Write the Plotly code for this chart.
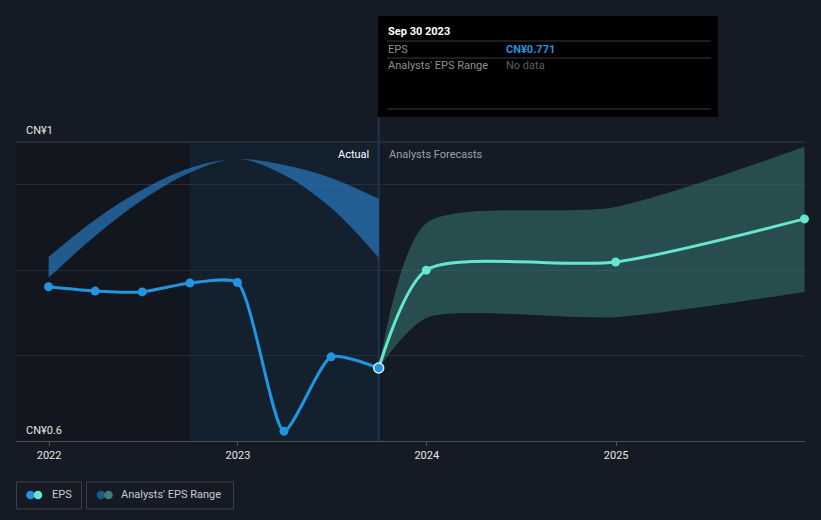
import plotly.graph_objects as go

# ---- data ----
actual_dates = ["2021-12-31", "2022-03-31", "2022-06-30", "2022-09-30",
                "2022-12-31", "2023-03-31", "2023-06-30", "2023-09-30"]
actual_eps = [0.961, 0.951, 0.949, 0.970, 0.971, 0.623, 0.797, 0.771]

range_hist_high = [1.031, 1.118, 1.188, 1.239, 1.260, 1.246, 1.216, 1.167]
range_hist_low = [0.982, 1.080, 1.164, 1.228, 1.260, 1.223, 1.146, 1.029]

forecast_dates = ["2023-09-30", "2023-12-31", "2024-12-31", "2025-12-31"]
forecast_eps = [0.771, 1.000, 1.019, 1.120]
forecast_low = [0.771, 0.888, 0.890, 0.949]
forecast_high = [0.771, 1.110, 1.148, 1.289]

year_ticks = ["2022-01-01", "2023-01-01", "2024-01-01", "2025-01-01"]
year_labels = ["2022", "2023", "2024", "2025"]

# ---- geometry helpers (pixels -> paper) ----
W, H = 821, 520
L, R, T, B = 16, 805, 142, 441


def px(x):
    return (x - L) / (R - L)


def py(y):
    return (B - y) / (B - T)


BG = "#151b24"
BLUE = "#2394df"
TEAL = "#64e6cf"
FONT = "Roboto, 'Open Sans', sans-serif"

fig = go.Figure()

# historical range band
fig.add_trace(go.Scatter(x=actual_dates, y=range_hist_low, mode="lines",
                         line=dict(width=0, shape="spline", smoothing=1.0),
                         hoverinfo="skip", showlegend=False))
fig.add_trace(go.Scatter(x=actual_dates, y=range_hist_high, mode="lines",
                         line=dict(width=0, shape="spline", smoothing=1.0),
                         fill="tonexty", fillcolor="rgba(45,140,220,0.58)",
                         hoverinfo="skip", showlegend=False))

# forecast range band
fig.add_trace(go.Scatter(x=forecast_dates, y=forecast_low, mode="lines",
                         line=dict(width=0, shape="spline", smoothing=0.7),
                         hoverinfo="skip", showlegend=False))
fig.add_trace(go.Scatter(x=forecast_dates, y=forecast_high, mode="lines",
                         line=dict(width=0, shape="spline", smoothing=0.7),
                         fill="tonexty", fillcolor="rgba(64,140,130,0.45)",
                         hoverinfo="skip", showlegend=False))

# actual EPS
fig.add_trace(go.Scatter(x=actual_dates, y=actual_eps, mode="lines+markers",
                         line=dict(color=BLUE, width=3, shape="spline", smoothing=0.6),
                         marker=dict(size=9, color=BLUE),
                         hoverinfo="skip", showlegend=False))

# forecast EPS
fig.add_trace(go.Scatter(x=forecast_dates, y=forecast_eps, mode="lines",
                         line=dict(color=TEAL, width=3, shape="spline", smoothing=0.7),
                         hoverinfo="skip", showlegend=False, cliponaxis=False))
fig.add_trace(go.Scatter(x=forecast_dates[1:], y=forecast_eps[1:], mode="markers",
                         marker=dict(size=9, color=TEAL),
                         hoverinfo="skip", showlegend=False, cliponaxis=False))

# highlighted last point
fig.add_trace(go.Scatter(x=[actual_dates[-1]], y=[actual_eps[-1]], mode="markers",
                         marker=dict(size=10, color=BLUE, line=dict(color="#d6ecff", width=1.5)),
                         hoverinfo="skip", showlegend=False, cliponaxis=False))

shapes = []
# darker left region
shapes.append(dict(type="rect", xref="x", yref="paper", x0="2021-10-01", x1="2022-09-30",
                   y0=0, y1=1, fillcolor="#12161e", line=dict(width=0), layer="below"))
# highlighted past-year region
shapes.append(dict(type="rect", xref="x", yref="paper", x0="2022-09-30", x1="2023-09-30",
                   y0=0, y1=1, fillcolor="#13202e", line=dict(width=0), layer="below"))
# top line
shapes.append(dict(type="line", xref="paper", yref="paper", x0=0, x1=1, y0=1, y1=1,
                   line=dict(color="#363c46", width=1), layer="below"))
# hover vertical line
shapes.append(dict(type="line", xref="x", yref="paper", x0="2023-09-30", x1="2023-09-30",
                   y0=0, y1=py(117), line=dict(color="#1c3550", width=2), layer="below"))
# tooltip box
shapes.append(dict(type="rect", xref="paper", yref="paper", x0=px(378), x1=px(718),
                   y0=py(117), y1=py(16), fillcolor="#000000", line=dict(width=0)))
for yy in (41, 58, 109):
    shapes.append(dict(type="line", xref="paper", yref="paper", x0=px(387), x1=px(711),
                       y0=py(yy), y1=py(yy), line=dict(color="#3a3a3a", width=1)))

# legend boxes
for (x0, x1) in ((16.5, 81.5), (86.5, 233.5)):
    shapes.append(dict(type="rect", xref="paper", yref="paper", x0=px(x0), x1=px(x1),
                       y0=py(509), y1=py(482), fillcolor=BG,
                       line=dict(color="#3a3f48", width=1)))
# legend icons
for cx, col in ((30.5, BLUE), (38, TEAL), (101, "#1d5a8a"), (108.5, "#3d7d76")):
    r = 4.3
    shapes.append(dict(type="circle", xref="paper", yref="paper",
                       x0=px(cx - r), x1=px(cx + r), y0=py(495 + r), y1=py(495 - r),
                       fillcolor=col, line=dict(width=0)))

annotations = []


def text(x, y, s, color, size=11, xanchor="left", bold=False):
    annotations.append(dict(xref="paper", yref="paper", x=px(x), y=py(y), text=f"<b>{s}</b>" if bold else s,
                            showarrow=False, xanchor=xanchor, yanchor="middle",
                            font=dict(family=FONT, size=size, color=color)))


text(24, 130, "CN¥1", "#e6e6e6")
text(24, 430, "CN¥0.6", "#e6e6e6")
text(371, 154, "Actual", "#ffffff", xanchor="right")
text(387, 154, "Analysts Forecasts", "#9aa0a8")
text(386, 31, "Sep 30 2023", "#ffffff", bold=True)
text(386, 49, "EPS", "#8f8f8f")
text(504, 49, "CN¥0.771", BLUE, bold=True)
text(386, 66, "Analysts' EPS Range", "#8f8f8f")
text(504, 66, "No data", "#5f5f5f")
text(50, 495, "EPS", "#c8ccd2")
text(119, 495, "Analysts' EPS Range", "#c8ccd2")

fig.update_layout(
    width=W, height=H,
    margin=dict(l=L, r=W - R, t=T, b=H - B),
    paper_bgcolor=BG, plot_bgcolor=BG,
    shapes=shapes, annotations=annotations,
    showlegend=False,
    font=dict(family=FONT, color="#e6e6e6", size=11),
    xaxis=dict(type="date", range=["2021-10-29", "2026-01-01"],
               tickvals=year_ticks, ticktext=year_labels,
               showgrid=False, zeroline=False,
               showline=True, linecolor="#4a4f58", linewidth=1,
               ticks="outside", ticklen=4, tickcolor="#4a4f58",
               tickfont=dict(family=FONT, size=11, color="#e6e6e6"),
               fixedrange=True),
    yaxis=dict(range=[0.6, 1.3], tickvals=[0.8, 1.0, 1.2],
               showticklabels=False, showgrid=True, gridcolor="#262d37", gridwidth=1,
               zeroline=False, fixedrange=True),
)

fig.write_html("out.html", config={"displayModeBar": False})
